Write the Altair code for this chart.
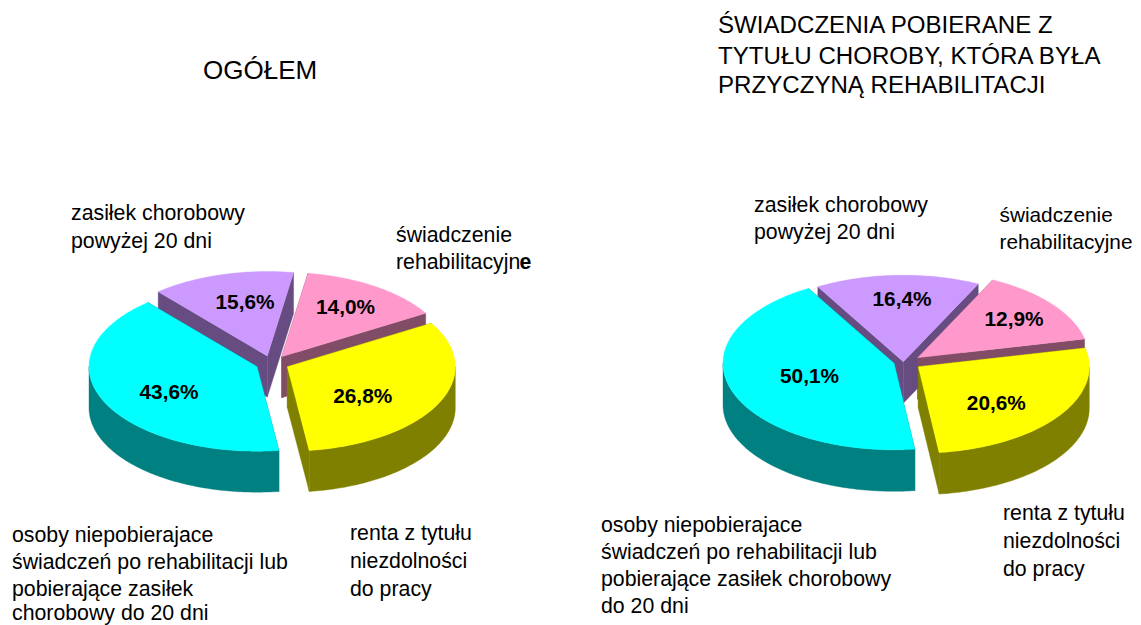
import math
import altair as alt

# ---- values ----
segments = ["zasilek", "swiadczenie", "renta", "osoby"]
left_shares = ["15,6%", "14,0%", "26,8%", "43,6%"]
right_shares = ["16,4%", "12,9%", "20,6%", "50,1%"]
# slice boundaries as drawn (degrees, clockwise on screen, 0 = east)
left_angles = {"zasilek": (-130.5, -81), "swiadczenie": (-81, -31), "renta": (-31, 82.5), "osoby": (82.5, 229.5)}
right_angles = {"zasilek": (-120, -64), "swiadczenie": (-64, -12.5), "renta": (-12.5, 83), "osoby": (83, 240)}

title_left = ["OGÓŁEM"]
title_right = ["ŚWIADCZENIA POBIERANE Z", "TYTUŁU CHOROBY, KTÓRA BYŁA", "PRZYCZYNĄ REHABILITACJI"]
lbl_zasilek = ["zasiłek chorobowy", "powyżej 20 dni"]
lbl_swiad_l = ["świadczenie", "rehabilitacyjn"]
lbl_swiad_r = ["świadczenie", "rehabilitacyjne"]
lbl_renta = ["renta z tytułu", "niezdolności", "do pracy"]
lbl_osoby_l = ["osoby niepobierajace", "świadczeń po rehabilitacji lub", "pobierające zasiłek", "chorobowy do 20 dni"]
lbl_osoby_r = ["osoby niepobierajace", "świadczeń po rehabilitacji lub", "pobierające zasiłek chorobowy", "do 20 dni"]

# ---- layout and style ----
OFF = 8
W, H = 1125, 617
top_color = {"zasilek": "#CC99FF", "swiadczenie": "#FF99CC", "renta": "#FFFF00", "osoby": "#00FFFF"}
side_color = {"zasilek": "#664C80", "swiadczenie": "#804C66", "renta": "#808000", "osoby": "#008080"}
left_geo = {"rx": 168, "ry": 84.5, "depth": 41,
            "apex": {"zasilek": (267.3, 356), "swiadczenie": (281.7, 356.7), "renta": (287.3, 366.7), "osoby": (257, 366.7)}}
right_geo = {"rx": 171, "ry": 86.5, "depth": 41.5,
             "apex": {"zasilek": (903.3, 361.7), "swiadczenie": (917.7, 357.7), "renta": (918.3, 366.7), "osoby": (894, 363.3)}}


def feat(points, color):
    ring = [[round(x - OFF, 2), round(y - OFF, 2)] for x, y in points]
    ring.append(ring[0])
    return {"type": "Feature", "geometry": {"type": "Polygon", "coordinates": [ring]},
            "properties": {"fill": color}}


def arc(apex, rx, ry, a0, a1, dy=0):
    n = max(2, int(abs(a1 - a0)) + 1)
    pts = []
    for i in range(n + 1):
        t = math.radians(a0 + (a1 - a0) * i / n)
        pts.append((apex[0] + rx * math.cos(t), apex[1] + ry * math.sin(t) + dy))
    return pts


def pie(geo, angles):
    rx, ry, d = geo["rx"], geo["ry"], geo["depth"]
    out = []
    for seg in segments:  # back to front
        a = geo["apex"][seg]
        a0, a1 = angles[seg]
        top = arc(a, rx, ry, a0, a1)
        start, end = top[0], top[-1]
        for p in (start, end):
            out.append(feat([a, p, (p[0], p[1] + d), (a[0], a[1] + d)], side_color[seg]))
        r0, r1 = max(a0, 0), min(a1, 180)
        if r1 > r0:
            out.append(feat(arc(a, rx, ry, r0, r1) + arc(a, rx, ry, r1, r0, d), side_color[seg]))
        out.append(feat([a] + top, top_color[seg]))
    return out


features = pie(left_geo, left_angles) + pie(right_geo, right_angles)

shapes = alt.Chart(alt.Data(values=features)).mark_geoshape(strokeWidth=0.4).encode(
    fill=alt.Fill("properties.fill:N", scale=None),
    stroke=alt.Stroke("properties.fill:N", scale=None),
).project(type="identity", scale=1, translate=[0, 0])


def text_block(lines, x, ys, size=21.3, bold=False, align="left"):
    layers = []
    for line, y in zip(lines, ys):
        layers.append(
            alt.Chart(alt.Data(values=[{"t": line}])).mark_text(
                font="Liberation Sans", fontSize=size, align=align, baseline="alphabetic",
                color="black", fontWeight="bold" if bold else "normal",
            ).encode(text="t:N", x=alt.value(x - OFF), y=alt.value(y - OFF))
        )
    return layers


layers = [shapes]
layers += text_block(title_left, 203, [79], size=26)
layers += text_block(title_right, 718, [33, 63.5, 93], size=24.1)
layers += text_block(lbl_zasilek, 71, [220, 248])
layers += text_block(lbl_swiad_l, 396, [242, 269])
layers += text_block(["e"], 519.4, [269], bold=True)
layers += text_block(lbl_renta, 350, [540, 568, 596])
layers += text_block(lbl_osoby_l, 12, [542, 569, 596, 620])
layers += text_block(lbl_zasilek, 754, [212, 239])
layers += text_block(lbl_swiad_r, 999.5, [222, 249], size=20.8)
layers += text_block(lbl_renta, 1003, [520, 548, 576])
layers += text_block(lbl_osoby_r, 601, [532, 559, 586, 613])
for share, pos in zip(left_shares, [(245, 309), (345.5, 314), (362.7, 403), (169, 399)]):
    layers += text_block([share], pos[0], [pos[1]], size=20.8, bold=True, align="center")
for share, pos in zip(right_shares, [(902, 306), (1014, 326), (996.3, 410), (809.5, 383)]):
    layers += text_block([share], pos[0], [pos[1]], size=20.8, bold=True, align="center")

chart = alt.layer(*layers).properties(
    width=W, height=H, padding=0, autosize=alt.AutoSizeParams(type="none", contains="padding"),
).configure_view(stroke=None)

chart.save("out.html", embed_options={"renderer": "svg", "actions": False})
